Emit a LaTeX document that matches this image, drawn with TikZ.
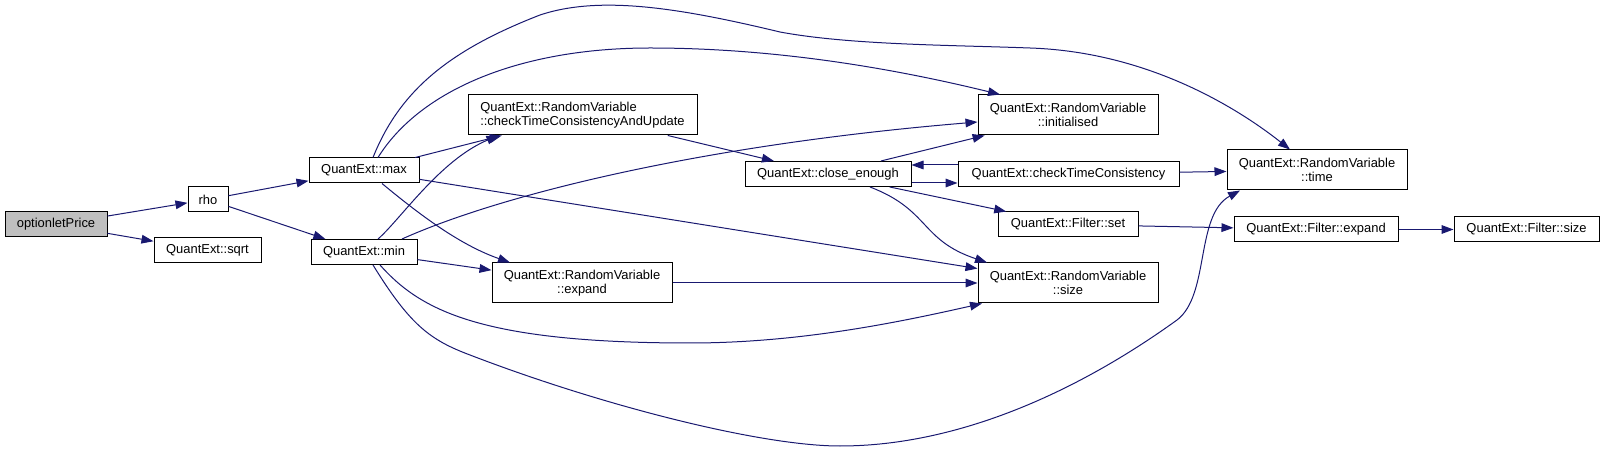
\documentclass[tikz,border=0pt]{standalone}
\usepackage{fontspec}
\setmainfont{Liberation Sans}
\usepackage{xcolor}
\usepackage{tikz}
\usetikzlibrary{arrows.meta,calc}
\definecolor{edgeblue}{RGB}{25, 25, 112}
\definecolor{rootgray}{RGB}{191, 191, 191}

\tikzset{
  fnbox/.style={draw=black, fill=white, line width=0.75pt, inner sep=0pt, minimum height=18.75pt, font=\fontsize{9.7}{10.5}\selectfont},
  fnboxii/.style={fnbox, minimum height=30pt, align=center},
  callarrow/.style={draw=edgeblue, line width=0.75pt, -{Triangle[length=9pt,width=6.5pt]}},
}

\begin{document}
\begin{tikzpicture}[x=0.75pt, y=-0.75pt]
        \useasboundingbox (0,0) rectangle (1607,452);

        % Caller and first level
        \node[fnbox, fill=rootgray, minimum width=76.5pt] (price) at (56,224.5) {optionletPrice};
        \node[fnbox, minimum width=30pt] (rho) at (208,199.5) {rho};
        \node[fnbox, minimum width=80.25pt] (sqrt) at (207.5,250.5) {QuantExt::sqrt};
        \node[fnbox, minimum width=82.5pt] (max) at (364,170.5) {QuantExt::max};
        \node[fnbox, minimum width=79.5pt] (min) at (364,252) {QuantExt::min};

        % RandomVariable members
        \node[fnboxii, align=left, minimum width=171.75pt] (update) at (582.5,115) {QuantExt::RandomVariable\\::checkTimeConsistencyAndUpdate};
        \node[fnboxii, minimum width=135pt] (rvexpand) at (582,283) {QuantExt::RandomVariable\\::expand};
        \node[fnbox, minimum width=124.5pt] (close) at (828,174) {QuantExt::close\_enough};
        \node[fnboxii, minimum width=135pt] (init) at (1068,115) {QuantExt::RandomVariable\\::initialised};
        \node[fnbox, minimum width=165.75pt] (consist) at (1068.5,174) {QuantExt::checkTimeConsistency};
        \node[fnbox, minimum width=105pt] (fset) at (1068,224.5) {QuantExt::Filter::set};
        \node[fnboxii, minimum width=135pt] (rvsize) at (1068,283) {QuantExt::RandomVariable\\::size};
        \node[fnboxii, minimum width=135pt] (rvtime) at (1317,170) {QuantExt::RandomVariable\\::time};

        % Filter
        \node[fnbox, minimum width=123pt] (fexpand) at (1316,229.5) {QuantExt::Filter::expand};
        \node[fnbox, minimum width=108.75pt] (fsize) at (1526.5,229.5) {QuantExt::Filter::size};

        % Calls from the left
        \draw[callarrow] (price) -- (rho);
        \draw[callarrow] (price) -- (sqrt);
        \draw[callarrow] (rho) -- (max);
        \draw[callarrow] (rho) -- (min);

        % Calls of max
        \draw[callarrow] (max) -- (update);
        \draw[callarrow] (max) -- (rvsize);
        \draw[callarrow] ($(max.south)+(18,0)$) .. controls (420,215) and (460,245) .. ($(rvexpand.north)+(-72,0)$);
        \draw[callarrow] ($(max.north)+(14,0)$) .. controls (420,90) and (520,48) .. (650,48)
            .. controls (780,48) and (900,70) .. ($(init.north)+(-68,0)$);
        \draw[callarrow] ($(max.north)+(9,0)$) .. controls (400,90) and (450,50) .. (540,15)
            .. controls (600,-5) and (680,8) .. (780,32)
            .. controls (850,45) and (950,45) .. (1030,48)
            .. controls (1150,52) and (1240,110) .. ($(rvtime.north)+(-27,0)$);

        % Calls of min
        \draw[callarrow] ($(min.north)+(14,0)$) .. controls (400,220) and (440,160) .. ($(update.south)+(-84,0)$);
        \draw[callarrow] ($(min.north)+(38,0)$) .. controls (500,195) and (700,145) .. ($(init.west)+(0,7)$);
        \draw[callarrow] (min) -- (rvexpand);
        \draw[callarrow] ($(min.south)+(16,0)$) .. controls (420,310) and (480,343) .. (690,343)
            .. controls (800,343) and (900,322) .. ($(rvsize.south)+(-86,0)$);
        \draw[callarrow] ($(min.south)+(9,0)$) .. controls (410,325) and (430,340) .. (470,355)
            .. controls (600,405) and (760,446) .. (840,446)
            .. controls (960,446) and (1080,390) .. (1177,320)
            .. controls (1210,295) and (1195,215) .. ($(rvtime.south)+(-77,0)$);

        % Inner calls
        \draw[callarrow] (update) -- (close);
        \draw[callarrow] (close) -- (init);
        \draw[callarrow] ($(close.east)+(0,9)$) -- ($(consist.west)+(0,9)$);
        \draw[callarrow] ($(consist.west)+(0,-9)$) -- ($(close.east)+(0,-9)$);
        \draw[callarrow] (close) -- (fset);
        \draw[callarrow] ($(close.south)+(42,0)$) .. controls (930,210) and (920,240) .. ($(rvsize.north)+(-81,0)$);
        \draw[callarrow] (consist) -- (rvtime);
        \draw[callarrow] (rvexpand) -- (rvsize);
        \draw[callarrow] (fset) -- (fexpand);
        \draw[callarrow] (fexpand) -- (fsize);
\end{tikzpicture}
\end{document}
